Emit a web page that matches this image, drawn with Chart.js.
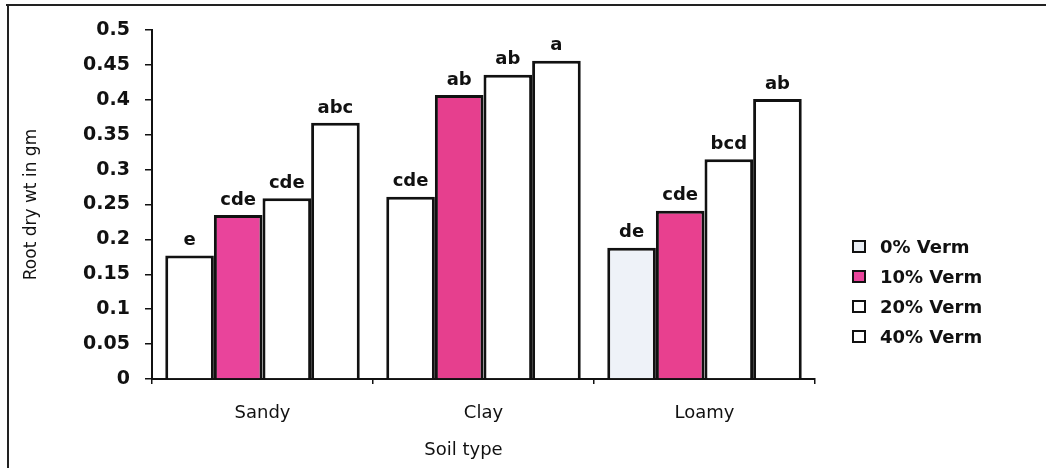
<!DOCTYPE html>
<html>
<head>
<meta charset="utf-8">
<script src="https://cdn.jsdelivr.net/npm/chart.js@4.4.1/dist/chart.umd.min.js"></script>
<style>
  html, body { margin: 0; padding: 0; background: #ffffff; }
  #wrap { position: relative; width: 1046px; height: 468px; overflow: hidden; background: #fff; }
  #frameTop { position: absolute; left: 6px; top: 4px; width: 1040px; height: 2px; background: #222; }
  #frameLeft { position: absolute; left: 7px; top: 4px; width: 2px; height: 464px; background: #222; }
  #legend { position: absolute; left: 852px; top: 231px; font-family: "DejaVu Sans", sans-serif; font-weight: bold; font-size: 18px; color: #111; }
  #legend .row { height: 30px; display: flex; align-items: center; }
  #legend .box { width: 10px; height: 9px; border: 2px solid #111; margin-right: 14px; }
</style>
</head>
<body>
<div id="wrap">
  <canvas id="c" width="1046" height="468"></canvas>
  <div id="frameTop"></div>
  <div id="frameLeft"></div>
  <div id="legend"></div>
</div>
<script>
const categories = ["Sandy", "Clay", "Loamy"];
const seriesNames = ["0% Verm", "10% Verm", "20% Verm", "40% Verm"];
const verm0 = [0.177, 0.261, 0.188];
const verm10 = [0.235, 0.407, 0.241];
const verm20 = [0.259, 0.436, 0.315];
const verm40 = [0.367, 0.456, 0.401];
const letters0 = ["e", "cde", "de"];
const letters10 = ["cde", "ab", "cde"];
const letters20 = ["cde", "ab", "bcd"];
const letters40 = ["abc", "a", "ab"];
const yTicks = [0, 0.05, 0.1, 0.15, 0.2, 0.25, 0.3, 0.35, 0.4, 0.45, 0.5];
const xTitle = "Soil type";
const yTitle = "Root dry wt in gm";

const seriesValues = [verm0, verm10, verm20, verm40];
const seriesLetters = [letters0, letters10, letters20, letters40];
const fills = [
  ["#ffffff", "#ffffff", "#eef2f8"],
  ["#e9449b", "#e63f8e", "#e8408f"],
  ["#ffffff", "#ffffff", "#ffffff"],
  ["#ffffff", "#ffffff", "#ffffff"]
];
const legendFills = ["#e9eef4", "#e9449b", "#ffffff", "#ffffff"];

const PAD_LEFT = 14;
const AXIS_X = 152;
const AXIS_Y = 379;

const letterPlugin = {
  id: 'letters',
  afterDatasetsDraw(chart) {
    const ctx = chart.ctx;
    ctx.save();
    ctx.font = 'bold 18px "DejaVu Sans", sans-serif';
    ctx.fillStyle = '#111';
    ctx.textAlign = 'center';
    ctx.textBaseline = 'bottom';
    chart.data.datasets.forEach((ds, i) => {
      const meta = chart.getDatasetMeta(i);
      meta.data.forEach((bar, j) => {
        ctx.fillText(seriesLetters[i][j], bar.x, bar.y - 6);
      });
    });
    // x axis title, sitting a little left of the plot centre as in the original
    const xs = chart.scales.x;
    ctx.font = '18px "DejaVu Sans", sans-serif';
    ctx.textBaseline = 'middle';
    ctx.fillText(xTitle, (xs.left + xs.right) / 2 - 20, 450);
    ctx.restore();
  }
};

const chart = new Chart(document.getElementById('c'), {
  type: 'bar',
  data: {
    labels: categories,
    datasets: seriesNames.map((name, i) => ({
      label: name,
      data: seriesValues[i],
      backgroundColor: fills[i],
      borderColor: '#111',
      borderWidth: 3,
      borderSkipped: 'bottom',
      categoryPercentage: 0.88,
      barPercentage: 1.0
    }))
  },
  options: {
    responsive: false,
    animation: false,
    devicePixelRatio: 1,
    layout: { padding: { left: PAD_LEFT, right: 231, top: 30, bottom: 0 } },
    plugins: {
      legend: { display: false },
      tooltip: { enabled: false }
    },
    scales: {
      x: {
        offset: true,
        grid: { display: true, drawOnChartArea: false, offset: true, color: '#111', tickLength: 5, lineWidth: 1.5 },
        border: { display: true, color: '#111', width: 2 },
        ticks: { color: '#111', padding: 19, font: { family: '"DejaVu Sans", sans-serif', size: 18 } },
        title: { display: false },
        afterFit(scale) { scale.height = 468 - AXIS_Y; }
      },
      y: {
        min: 0,
        max: 0.5,
        afterBuildTicks(scale) { scale.ticks = yTicks.map(v => ({ value: v })); },
        grid: { display: true, drawOnChartArea: false, color: '#111', tickLength: 7, lineWidth: 1.5 },
        border: { display: true, color: '#111', width: 2 },
        ticks: {
          color: '#111',
          padding: 15,
          font: { family: '"DejaVu Sans", sans-serif', size: 19, weight: 'bold' },
          callback: (v) => String(v)
        },
        title: { display: true, text: yTitle, color: '#111', padding: { top: 7, bottom: 4 }, font: { family: '"DejaVu Sans", sans-serif', size: 17 } },
        afterFit(scale) { scale.width = AXIS_X - PAD_LEFT; }
      }
    }
  },
  plugins: [letterPlugin]
});

const legendEl = document.getElementById('legend');
seriesNames.forEach((name, i) => {
  const row = document.createElement('div');
  row.className = 'row';
  const box = document.createElement('div');
  box.className = 'box';
  box.style.background = legendFills[i];
  const txt = document.createElement('span');
  txt.textContent = name;
  row.appendChild(box);
  row.appendChild(txt);
  legendEl.appendChild(row);
});
</script>
</body>
</html>
